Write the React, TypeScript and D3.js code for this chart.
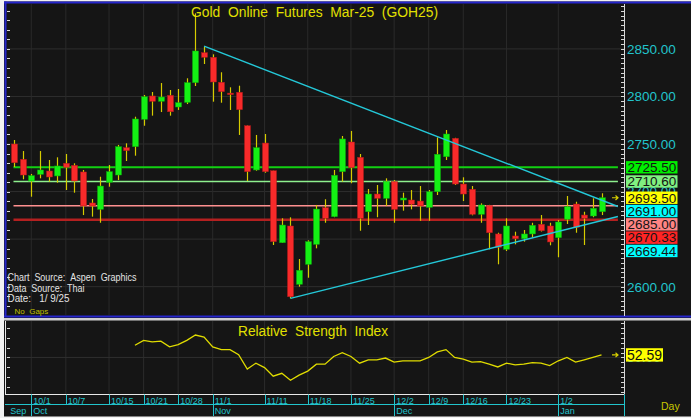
import * as d3 from 'd3';
import React from 'react';

// daily bars, index 0 = late Sep 2024 ... index 68 = 1/9/25
const opens = [
  2750.0, 2733.9, 2711.1, 2718.1, 2721.6, 2716.4, 2729.7, 2727.6, 2720.6, 2688.0,
  2681.3, 2709.7, 2717.4, 2746.1, 2747.2, 2776.0, 2800.5, 2794.9, 2801.2, 2788.9,
  2793.8, 2814.5, 2846.0, 2841.2, 2814.9, 2803.5, 2804.4, 2769.2, 2722.7, 2751.0,
  2721.9, 2646.2, 2663.8, 2602.5, 2623.5, 2644.5, 2683.0, 2673.6, 2720.9, 2752.1,
  2736.0, 2678.8, 2697.4, 2692.9, 2710.4, 2691.1, 2691.1, 2690.0, 2683.4, 2699.8,
  2736.6, 2756.0, 2707.9, 2702.4, 2676.1, 2685.1, 2655.4, 2639.3, 2653.3, 2650.4,
  2655.4, 2665.6, 2663.8, 2651.5, 2670.9, 2686.9, 2675.3, 2674.3, 2678.8,
];
const highs = [
  2754.2, 2742.6, 2718.5, 2742.6, 2733.2, 2736.0, 2739.5, 2729.7, 2722.7, 2692.2,
  2715.6, 2727.9, 2749.0, 2750.7, 2778.7, 2801.5, 2804.7, 2814.1, 2806.8, 2807.8,
  2819.1, 2887.4, 2852.3, 2844.3, 2825.4, 2809.6, 2811.3, 2769.5, 2759.5, 2760.5,
  2722.0, 2671.9, 2672.9, 2629.1, 2648.7, 2685.9, 2691.9, 2722.7, 2758.4, 2763.7,
  2739.5, 2702.7, 2706.9, 2713.9, 2712.1, 2698.8, 2701.6, 2705.8, 2701.6, 2757.0,
  2764.7, 2756.5, 2715.0, 2705.8, 2687.6, 2686.0, 2656.7, 2671.9, 2657.8, 2659.6,
  2667.2, 2675.3, 2667.2, 2670.1, 2695.3, 2689.3, 2678.8, 2692.9, 2698.2,
];
const lows = [
  2725.8, 2712.9, 2694.6, 2713.9, 2710.4, 2709.3, 2701.6, 2698.8, 2675.3, 2673.6,
  2667.2, 2705.1, 2712.1, 2732.1, 2737.7, 2769.2, 2779.8, 2783.6, 2779.8, 2785.8,
  2792.0, 2811.0, 2834.1, 2794.5, 2793.4, 2785.8, 2759.5, 2711.1, 2721.9, 2719.8,
  2643.8, 2646.0, 2587.7, 2600.0, 2609.4, 2640.3, 2667.2, 2673.0, 2710.4, 2708.7,
  2658.8, 2664.8, 2673.0, 2684.8, 2667.2, 2679.9, 2681.3, 2669.3, 2669.3, 2696.4,
  2733.2, 2706.9, 2690.0, 2675.0, 2667.2, 2639.3, 2623.5, 2637.5, 2644.5, 2647.3,
  2651.5, 2658.0, 2643.5, 2630.9, 2665.9, 2656.7, 2643.8, 2673.0, 2675.3,
];
const closes = [
  2730.3, 2717.4, 2716.7, 2722.7, 2715.3, 2726.9, 2725.5, 2711.1, 2684.8, 2684.8,
  2705.8, 2720.9, 2747.2, 2743.0, 2776.3, 2799.7, 2794.9, 2799.4, 2783.9, 2793.4,
  2814.5, 2847.8, 2841.2, 2815.2, 2805.0, 2803.0, 2786.1, 2720.9, 2746.1, 2720.9,
  2647.3, 2664.8, 2589.4, 2617.2, 2647.3, 2681.6, 2671.9, 2717.1, 2755.3, 2725.1,
  2671.9, 2697.4, 2692.9, 2710.4, 2681.3, 2693.2, 2686.6, 2684.8, 2699.8, 2739.2,
  2760.5, 2707.9, 2697.4, 2676.1, 2685.9, 2656.7, 2641.4, 2663.8, 2650.4, 2655.4,
  2664.5, 2658.8, 2647.0, 2668.0, 2684.1, 2662.4, 2671.9, 2682.4, 2693.5,
];

// RSI starts at bar 14
const rsiStart = 14;
const rsiValues = [
  62.5, 67.4, 66.0, 66.7, 60.8, 63.2, 67.4, 72.9, 70.8, 60.8,
  58.0, 58.0, 52.8, 38.2, 44.2, 39.6, 30.9, 33.8, 26.8, 32.0,
  36.1, 43.1, 43.1, 51.0, 54.9, 51.0, 44.2, 47.6, 47.6, 49.4,
  45.2, 46.6, 46.6, 46.6, 50.0, 55.6, 58.0, 50.0, 48.3, 45.2,
  45.8, 43.1, 40.3, 44.2, 42.4, 43.1, 44.8, 44.2, 41.7, 46.6,
  50.0, 45.2, 47.6, 50.0, 52.59,
];

const dayTickIdx = [2, 6, 11, 15, 19, 23, 29, 34, 39, 44, 48, 52, 57, 63];
const dayTickLabels = ['10/1', '10/7', '10/15', '10/21', '10/28', '11/1', '11/11', '11/18', '11/25', '12/2', '12/9', '12/16', '12/23', '1/2'];
const monthTickIdx = [2, 23, 44, 63];
const monthLabels = ['Oct', 'Nov', 'Dec', 'Jan'];

const priceTicks = [2600, 2650, 2700, 2750, 2800, 2850];

// horizontal study lines
const levelValues = [2725.5, 2710.6, 2685.0, 2670.33];
const levelColors = ['#12d012', '#8ef08e', '#ff9090', '#b42020'];
const levelWidths = [2, 1.5, 1.5, 2.5];

// trendlines: [barIndex, price]
const trendDown: [number, number][] = [[22, 2853.0], [68, 2691.0]];
const trendUp: [number, number][] = [[32, 2587.7], [68, 2669.44]];

// right side value boxes
const markerValues = [2725.5, 2710.6, 2693.5, 2691.0, 2685.0, 2670.33, 2669.44];
const markerColors = ['#00f000', '#80f080', '#ffff00', '#00ffff', '#ff8484', '#ff2424', '#00ffff'];

const W = 691;
const H = 418;
const BG = '#151515';
const FONT = '"Liberation Sans", Arial, sans-serif';
const CYAN = '#22c4cc';
const UP = '#14f014';
const DOWN = '#f82a2a';
const WICK = '#d6cc00';
const NB = '\u00a0';

// keep the double spaces the original uses
const sp = (s: string) => s.replace(/ /g, NB);

const plotLeft = 6;
const plotRight = 624;
const mainTop = 4;
const mainBottom = 315;
const rsiTop = 321;
const rsiBottom = 394.5;

const App = () => {
  const x = d3.scaleLinear().domain([0, 68]).range([14, 601.5]);
  const y = d3.scaleLinear().domain([2570.2, 2897.2]).range([mainBottom, mainTop]);
  const yr = d3.scaleLinear().domain([12.2, 87.2]).range([rsiBottom, rsiTop]);

  const bodyW = 6;

  const rsiLine = d3
    .line<number>()
    .x((_, i) => x(i + rsiStart))
    .y((v) => yr(v));

  // extend trendlines a couple of bars past the last one
  const extendTo = 69.9;
  const trendPath = (pts: [number, number][]) => {
    const [[i0, p0], [i1, p1]] = pts;
    const slope = (p1 - p0) / (i1 - i0);
    const pEnd = p1 + slope * (extendTo - i1);
    return d3.line()([
      [x(i0), y(p0)],
      [x(extendTo), y(pEnd)],
    ]);
  };

  // stack the value boxes so they don't overlap
  const boxH = 12.4;
  const gap = 13.3;
  const boxY: number[] = [];
  markerValues.forEach((v, i) => {
    const want = y(v);
    boxY.push(i === 0 ? want : Math.max(want, boxY[i - 1] + gap));
  });

  const leftTicks = d3.range(2580, 2900, 10);
  const rightTicks = d3.range(2575, 2900, 5);
  const rsiLeftTicks = d3.range(20, 90, 10);
  const rsiRightTicks = d3.range(15, 90, 5);

  const lastClose = closes[closes.length - 1];
  const lastRsi = rsiValues[rsiValues.length - 1];

  const arrow = (cy: number) =>
    `M612,${cy} L618,${cy} M615.5,${cy - 2.2} L618,${cy} L615.5,${cy + 2.2}`;

  return (
    <div style={{ position: 'absolute', left: 0, top: 0 }}>
      <svg width={W} height={H} style={{ display: 'block', fontFamily: FONT }}>
        <rect width={W} height={H} fill="#f2f2f2" />
        <rect x={4} y={1.5} width={W - 4} height={415} fill={BG} />

        {/* grid */}
        {priceTicks.map((p) => (
          <line key={p} x1={plotLeft} x2={plotRight} y1={y(p)} y2={y(p)} stroke="#2e2e2e" />
        ))}
        {dayTickIdx.map((i) => (
          <g key={i}>
            <line x1={x(i)} x2={x(i)} y1={mainTop} y2={mainBottom} stroke="#2a2a2a" />
            <line x1={x(i)} x2={x(i)} y1={rsiTop} y2={rsiBottom} stroke="#2a2a2a" />
          </g>
        ))}
        <line x1={plotLeft} x2={plotRight} y1={yr(50)} y2={yr(50)} stroke="#2e2e2e" />

        {/* level lines */}
        {levelValues.map((v, i) => (
          <line
            key={v}
            x1={x(0) - 0.5}
            x2={x(extendTo)}
            y1={y(v)}
            y2={y(v)}
            stroke={levelColors[i]}
            strokeWidth={levelWidths[i]}
          />
        ))}

        {/* candles */}
        {opens.map((o, i) => {
          const c = closes[i];
          const up = c >= o;
          const top = y(Math.max(o, c));
          const bot = y(Math.min(o, c));
          const cx = Math.round(x(i)) + 0.5;
          return (
            <g key={i}>
              <line x1={cx} x2={cx} y1={y(highs[i])} y2={y(lows[i])} stroke={WICK} strokeWidth={1.2} />
              <rect
                x={cx - bodyW / 2}
                y={top}
                width={bodyW}
                height={Math.max(1.5, bot - top)}
                fill={up ? UP : DOWN}
                stroke={up ? '#0aa80a' : '#b01818'}
                strokeWidth={0.5}
              />
            </g>
          );
        })}

        {/* trendlines */}
        <path d={trendPath(trendDown) ?? ''} stroke="#24c8d8" strokeWidth={1.4} fill="none" />
        <path d={trendPath(trendUp) ?? ''} stroke="#24c8d8" strokeWidth={1.4} fill="none" />

        {/* frame */}
        <line x1={4} x2={W} y1={2.5} y2={2.5} stroke="#2626cc" strokeWidth={2} />
        <line x1={5.5} x2={5.5} y1={1.5} y2={317} stroke="#2626cc" strokeWidth={2} />
        <line x1={4} x2={W} y1={316.5} y2={316.5} stroke="#2626cc" strokeWidth={2} />
        <rect x={4} y={318} width={W - 4} height={2.5} fill="#cfcfcf" />
        <line x1={5.5} x2={5.5} y1={rsiTop} y2={rsiBottom} stroke="#e8e8e8" />
        <line x1={5} x2={plotRight} y1={rsiBottom} y2={rsiBottom} stroke="#e8e8e8" />
        <line x1={plotRight + 0.5} x2={plotRight + 0.5} y1={mainTop} y2={mainBottom + 1} stroke="#d8d8d8" />
        <line x1={plotRight + 0.5} x2={plotRight + 0.5} y1={rsiTop} y2={rsiBottom} stroke="#d8d8d8" />

        {/* axis ticks */}
        {leftTicks.map((p) => (
          <line key={p} x1={7} x2={10} y1={Math.round(y(p)) + 0.5} y2={Math.round(y(p)) + 0.5} stroke="#d8d8d8" />
        ))}
        {rightTicks.map((p) => (
          <line key={p} x1={621} x2={624} y1={Math.round(y(p)) + 0.5} y2={Math.round(y(p)) + 0.5} stroke="#d8d8d8" />
        ))}
        {rsiLeftTicks.map((v) => (
          <line key={v} x1={7} x2={10} y1={Math.round(yr(v)) + 0.5} y2={Math.round(yr(v)) + 0.5} stroke="#d8d8d8" />
        ))}
        {rsiRightTicks.map((v) => (
          <line key={v} x1={621} x2={624} y1={Math.round(yr(v)) + 0.5} y2={Math.round(yr(v)) + 0.5} stroke="#d8d8d8" />
        ))}

        {/* price labels */}
        {priceTicks.map((p) => (
          <text key={p} x={627} y={y(p)} dy="0.36em" fontSize={13.5} fill={CYAN}>
            {p.toFixed(2)}
          </text>
        ))}
        {markerValues.map((v, i) => (
          <g key={v}>
            <rect x={626} y={boxY[i] - boxH / 2} width={51.5} height={boxH} fill={markerColors[i]} />
            <text x={627.5} y={boxY[i]} dy="0.36em" fontSize={13.5} fill="#141414">
              {v.toFixed(2)}
            </text>
          </g>
        ))}
        <path d={arrow(y(lastClose))} stroke="#d8d000" strokeWidth={1.2} fill="none" />

        {/* titles and notes */}
        <text x={191} y={16.5} fontSize={15.5} fill="#e2e000" textLength={247} lengthAdjust="spacingAndGlyphs">
          {sp('Gold  Online  Futures  Mar-25  (GOH25)')}
        </text>
        <g fontSize={10.5} fill="#e4e4e4">
          <text x={7.5} y={281} textLength={129} lengthAdjust="spacingAndGlyphs">{sp('Chart  Source:  Aspen  Graphics')}</text>
          <text x={7.5} y={291.5} textLength={77} lengthAdjust="spacingAndGlyphs">{sp('Data  Source:  Thai')}</text>
          <text x={7.5} y={302} textLength={62} lengthAdjust="spacingAndGlyphs">{sp('Date:   1/ 9/25')}</text>
        </g>
        <text x={14.5} y={314} fontSize={8} fill="#c0c000">
          {sp('No  Gaps')}
        </text>

        {/* RSI */}
        <text x={238} y={336} fontSize={15.5} fill="#e2e000" textLength={150} lengthAdjust="spacingAndGlyphs">
          {sp('Relative  Strength  Index')}
        </text>
        <path d={rsiLine(rsiValues) ?? ''} stroke="#e0dc00" strokeWidth={1.3} fill="none" />
        <text x={627} y={yr(50)} dy="0.36em" fontSize={13.5} fill={CYAN}>
          50.00
        </text>
        <rect x={626} y={yr(lastRsi) - 6.7} width={37} height={13.4} fill="#ffff00" />
        <text x={627} y={yr(lastRsi)} dy="0.36em" fontSize={14} fill="#101010">
          {lastRsi.toFixed(2)}
        </text>
        <path d={arrow(yr(lastRsi))} stroke="#d8d000" strokeWidth={1.2} fill="none" />

        {/* date axis */}
        <line x1={5} x2={plotRight} y1={404.5} y2={404.5} stroke={CYAN} strokeWidth={1.2} />
        {dayTickIdx.map((i, k) => (
          <g key={i}>
            <line x1={Math.round(x(i)) + 0.5} x2={Math.round(x(i)) + 0.5} y1={rsiBottom} y2={404.5} stroke={CYAN} />
            <text x={x(i) + 2} y={403.5} fontSize={9} fill={CYAN}>
              {dayTickLabels[k]}
            </text>
          </g>
        ))}
        {monthTickIdx.map((i, k) => (
          <g key={i}>
            <line x1={Math.round(x(i)) + 0.5} x2={Math.round(x(i)) + 0.5} y1={rsiBottom} y2={416} stroke={CYAN} />
            <text x={x(i) + 2} y={414} fontSize={9} fill={CYAN}>
              {monthLabels[k]}
            </text>
          </g>
        ))}
        <text x={x(monthTickIdx[0]) - 5} y={414} fontSize={9} fill={CYAN} textAnchor="end">
          Sep
        </text>
        <line x1={plotRight + 0.5} x2={plotRight + 0.5} y1={rsiBottom} y2={416} stroke={CYAN} />
        <text x={661} y={409.5} fontSize={10.5} fill="#c8c800">
          Day
        </text>
      </svg>
    </div>
  );
};

export default App;
